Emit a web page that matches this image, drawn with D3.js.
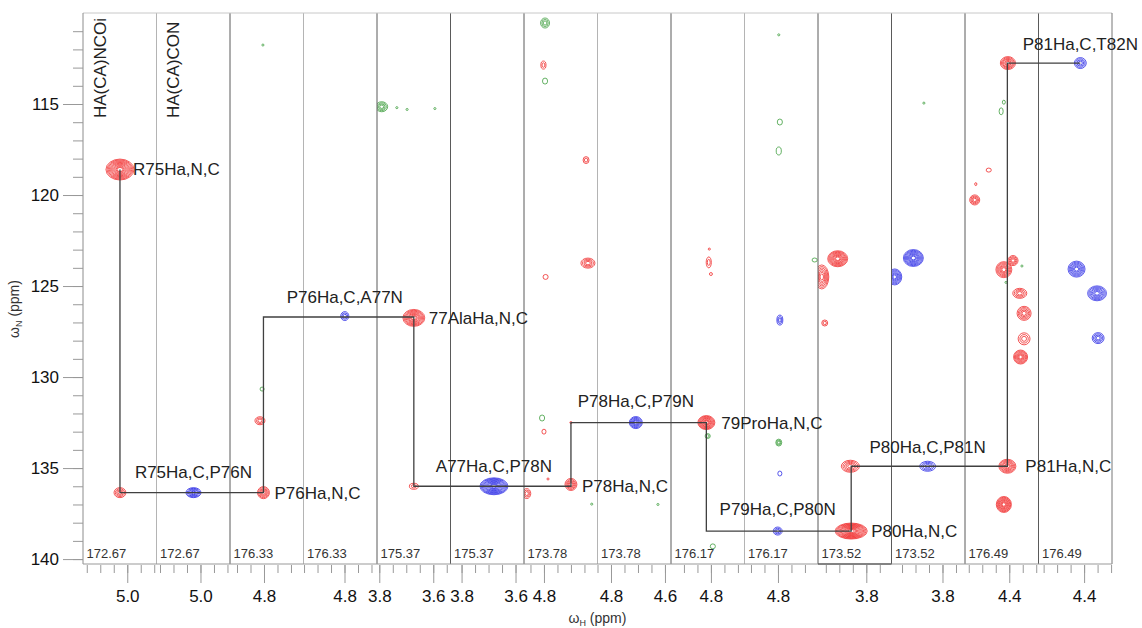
<!DOCTYPE html>
<html>
<head>
<meta charset="utf-8">
<script src="https://cdn.jsdelivr.net/npm/d3@7"></script>
<style>
  body { margin: 0; background: #fff; }
  svg { display: block; font-family: "Liberation Sans", Arial, sans-serif; }
</style>
</head>
<body>
<svg id="chart" width="1142" height="628"></svg>
<script>
// carbon shift shown in each strip and the 1H value at its left edge
const stripCarbon = [172.67, 172.67, 176.33, 176.33, 175.37, 175.37, 173.78, 173.78,
                     176.17, 176.17, 173.52, 173.52, 176.49, 176.49];
const stripHStart = [5.164, 5.163, 4.926, 4.952, 3.8085, 3.841, 4.874, 4.850,
                     4.948, 4.924, 3.979, 3.989, 4.564, 4.569];
const stripHWidth = 0.2724;
const stripHeaders = ["HA(CA)NCOi", "HA(CA)CON"];

const nMajorTicks = [115, 120, 125, 130, 135, 140];
const nMinorTicks = d3.range(111, 141);

// peaks: [strip, H ppm, N ppm, H linewidth, N linewidth, contour levels]
const ncoiPeaks = [
  [0, 5.027, 118.6, 0.104, 1.15, 11], [0, 5.027, 136.35, 0.044, 0.55, 4],
  [2, 4.802, 136.35, 0.044, 0.66, 5], [2, 4.815, 132.4, 0.037, 0.44, 3],
  [4, 3.672, 126.75, 0.081, 0.93, 9], [4, 3.672, 136.0, 0.033, 0.33, 2],
  [6, 4.864, 136.4, 0.030, 0.55, 3], [6, 4.802, 112.86, 0.019, 0.44, 2],
  [6, 4.644, 118.08, 0.022, 0.38, 2], [6, 4.637, 123.74, 0.052, 0.55, 4],
  [6, 4.794, 124.5, 0.019, 0.27, 1], [6, 4.800, 133.0, 0.015, 0.27, 1],
  [6, 4.785, 135.6, 0.008, 0.11, 1], [6, 4.700, 135.9, 0.044, 0.66, 5],
  [6, 4.700, 132.5, 0.008, 0.11, 1],
  [8, 4.817, 132.5, 0.063, 0.77, 9], [8, 4.808, 123.7, 0.019, 0.60, 2],
  [8, 4.806, 122.97, 0.008, 0.11, 1], [8, 4.800, 124.34, 0.011, 0.16, 1],
  [10, 3.906, 123.5, 0.074, 0.88, 9], [10, 3.965, 124.5, 0.052, 1.32, 7],
  [10, 3.954, 127.03, 0.022, 0.33, 2], [10, 3.859, 134.9, 0.067, 0.66, 5],
  [10, 3.856, 138.46, 0.119, 0.88, 12],
  [12, 4.407, 134.9, 0.063, 0.77, 7], [12, 4.420, 137.0, 0.056, 0.88, 9],
  [12, 4.405, 112.75, 0.056, 0.71, 6], [12, 4.528, 120.27, 0.037, 0.55, 4],
  [12, 4.476, 118.63, 0.019, 0.22, 1], [12, 4.524, 119.4, 0.008, 0.16, 1],
  [12, 4.420, 124.1, 0.059, 0.88, 7], [12, 4.386, 123.6, 0.037, 0.55, 4],
  [12, 4.361, 125.4, 0.052, 0.55, 4], [12, 4.345, 126.5, 0.052, 0.77, 5],
  [12, 4.345, 127.9, 0.044, 0.66, 3], [12, 4.358, 128.9, 0.052, 0.77, 7]
];
const conPeaks = [
  [1, 5.026, 136.35, 0.056, 0.55, 6], [3, 4.799, 126.65, 0.030, 0.49, 3],
  [5, 3.680, 136.0, 0.104, 0.93, 11], [7, 4.708, 132.5, 0.048, 0.66, 6],
  [9, 4.801, 138.46, 0.033, 0.44, 3], [9, 4.793, 135.3, 0.015, 0.27, 1],
  [9, 4.793, 126.87, 0.022, 0.55, 3],
  [11, 3.855, 134.9, 0.059, 0.55, 4], [11, 3.908, 123.46, 0.074, 0.93, 9],
  [11, 3.977, 124.5, 0.052, 0.88, 7],
  [13, 4.414, 112.75, 0.044, 0.60, 4], [13, 4.428, 124.07, 0.063, 0.88, 7],
  [13, 4.352, 125.4, 0.070, 0.82, 7], [13, 4.348, 127.86, 0.044, 0.60, 4]
];
const refPeaks = [
  [2, 4.807, 130.66, 0.015, 0.22, 1], [2, 4.804, 111.76, 0.008, 0.11, 1],
  [4, 3.791, 115.15, 0.044, 0.55, 4], [4, 3.735, 115.2, 0.008, 0.11, 1],
  [4, 3.697, 115.3, 0.008, 0.11, 1], [4, 3.594, 115.25, 0.008, 0.11, 1],
  [6, 4.796, 110.55, 0.033, 0.55, 3], [6, 4.796, 113.74, 0.019, 0.33, 1],
  [6, 4.807, 132.25, 0.019, 0.33, 1], [6, 4.623, 136.98, 0.008, 0.11, 1],
  [7, 4.626, 137.0, 0.008, 0.11, 1],
  [8, 4.812, 133.24, 0.019, 0.27, 2], [8, 4.793, 139.3, 0.019, 0.27, 1],
  [9, 4.797, 133.6, 0.022, 0.38, 3], [9, 4.793, 115.99, 0.019, 0.33, 1],
  [9, 4.797, 117.58, 0.019, 0.44, 1], [9, 4.664, 123.57, 0.019, 0.22, 1],
  [9, 4.797, 111.2, 0.008, 0.11, 1], [11, 3.869, 114.95, 0.008, 0.11, 1],
  [12, 4.430, 115.4, 0.015, 0.38, 1], [12, 4.420, 114.9, 0.011, 0.22, 1],
  [12, 4.353, 123.9, 0.008, 0.11, 1], [12, 4.412, 124.8, 0.008, 0.11, 1]
];

// sequential walk through the backbone: [strip, H ppm, N ppm]
const walk = [
  [0, 5.027, 118.6], [0, 5.027, 136.35], [2, 4.802, 136.35], [2, 4.802, 126.7],
  [4, 3.672, 126.7], [4, 3.672, 136.0], [6, 4.700, 136.0], [6, 4.700, 132.5],
  [8, 4.817, 132.5], [8, 4.817, 138.46], [10, 3.856, 138.46], [10, 3.856, 134.9],
  [12, 4.407, 134.9], [12, 4.407, 112.75], [13, 4.414, 112.75]
];

// assignment labels: [text, strip, H ppm, N ppm]
const labels = [
  ["R75Ha,N,C", 0, 5.027, 118.6], ["R75Ha,C,P76N", 1, 5.026, 136.35],
  ["P76Ha,N,C", 2, 4.802, 136.35], ["P76Ha,C,A77N", 3, 4.799, 126.65],
  ["77AlaHa,N,C", 4, 3.672, 126.75], ["A77Ha,C,P78N", 5, 3.680, 136.0],
  ["P78Ha,N,C", 6, 4.700, 136.0], ["P78Ha,C,P79N", 7, 4.708, 132.5],
  ["79ProHa,N,C", 8, 4.817, 132.5], ["P79Ha,C,P80N", 9, 4.801, 138.46],
  ["P80Ha,N,C", 10, 3.856, 138.46], ["P80Ha,C,P81N", 11, 3.855, 134.9],
  ["P81Ha,N,C", 12, 4.407, 134.9], ["P81Ha,C,T82N", 13, 4.414, 112.75]
];

// ---- layout ----
const width = 1142, height = 628;
const margin = { top: 13, right: 30, bottom: 64, left: 83 };
const plotRight = width - margin.right;
const plotBottom = height - margin.bottom;

const svg = d3.select("#chart");

const band = d3.scaleBand()
  .domain(d3.range(stripCarbon.length))
  .range([margin.left, plotRight])
  .padding(0);

const y = d3.scaleLinear()
  .domain([110, 140.27])
  .range([margin.top, plotBottom]);

// one 1H scale per strip
const xs = stripHStart.map((h0, i) => d3.scaleLinear()
  .domain([h0, h0 - stripHWidth])
  .range([band(i), band(i) + band.bandwidth()]));

const color = d3.scaleOrdinal()
  .domain(["NCOi", "CON", "ref"])
  .range(["#f02a2a", "#2c2ce6", "#3f9e3f"]);

// clip paths
const defs = svg.append("defs");
stripCarbon.forEach((c, i) => {
  defs.append("clipPath").attr("id", "clip" + i)
    .append("rect")
    .attr("x", band(i)).attr("y", margin.top)
    .attr("width", band.bandwidth()).attr("height", plotBottom - margin.top);
});

const stripLayer = stripCarbon.map((c, i) =>
  svg.append("g").attr("clip-path", `url(#clip${i})`));

// contours
[["NCOi", ncoiPeaks], ["CON", conPeaks], ["ref", refPeaks]].forEach(([name, rows]) => {
  rows.forEach(([s, h, n, wh, wn, lv]) => {
    const cx = xs[s](h), cy = y(n);
    const rx = Math.max(0.9, Math.abs(xs[s](h + wh / 2) - cx));
    const ry = Math.max(0.9, Math.abs(y(n + wn / 2) - cy));
    for (let k = 0; k < lv; k++) {
      const f = 1 - (k / lv) * 0.88;
      stripLayer[s].append("ellipse")
        .attr("cx", cx).attr("cy", cy)
        .attr("rx", rx * f).attr("ry", ry * f)
        .attr("fill", "none")
        .attr("stroke", color(name))
        .attr("stroke-width", lv > 6 ? 0.75 : 0.8);
    }
  });
});

// strip separators
const lightEdges = new Set([1, 3, 7, 9]);
d3.range(1, stripCarbon.length).forEach(i => {
  svg.append("line")
    .attr("x1", band(i)).attr("x2", band(i))
    .attr("y1", margin.top).attr("y2", plotBottom)
    .attr("stroke", lightEdges.has(i) ? "#b4b4b4" : "#5a5a5a")
    .attr("stroke-width", 1);
});

// frame
svg.append("line").attr("x1", margin.left).attr("x2", plotRight)
  .attr("y1", margin.top).attr("y2", margin.top).attr("stroke", "#c8c8c8");
svg.append("line").attr("x1", margin.left).attr("x2", margin.left)
  .attr("y1", margin.top).attr("y2", plotBottom).attr("stroke", "#8c8c8c");
svg.append("line").attr("x1", plotRight).attr("x2", plotRight)
  .attr("y1", margin.top).attr("y2", plotBottom).attr("stroke", "#777");
svg.append("line").attr("x1", margin.left).attr("x2", plotRight)
  .attr("y1", plotBottom).attr("y2", plotBottom).attr("stroke", "#999");
// highlighted (current) strip: darker bottom edge
svg.append("line")
  .attr("x1", band(10)).attr("x2", band(10) + band.bandwidth())
  .attr("y1", plotBottom).attr("y2", plotBottom)
  .attr("stroke", "#3a3a3a");

// carbon labels
stripCarbon.forEach((c, i) => {
  svg.append("text")
    .attr("x", band(i) + 3.5).attr("y", plotBottom - 6)
    .attr("font-size", 13).attr("fill", "#333")
    .text(c.toFixed(2));
});

// strip headers
stripHeaders.forEach((t, i) => {
  svg.append("text")
    .attr("transform", `translate(${band(i) + 22.5}, 118) rotate(-90)`)
    .attr("font-size", 17).attr("fill", "#222")
    .text(t);
});

// walk line
const walkLine = d3.line().x(d => xs[d[0]](d[1])).y(d => y(d[2]));
svg.append("path")
  .attr("d", walkLine(walk))
  .attr("fill", "none")
  .attr("stroke", "#404040")
  .attr("stroke-width", 1.3);

// assignment labels
const labelOffset = [[13, 0], [0, -21], [11, 0], [0, -19], [15, 0], [0, -20], [11, 0],
                     [0, -22], [15, 0], [0, -22], [20, 0], [0, -19], [18, 0], [0, -19]];
labels.forEach(([t, s, h, n], i) => {
  const [dx, dy] = labelOffset[i];
  svg.append("text")
    .attr("x", xs[s](h) + dx).attr("y", y(n) + dy)
    .attr("dy", "0.35em")
    .attr("text-anchor", dx === 0 ? "middle" : "start")
    .attr("font-size", 17).attr("fill", "#222")
    .text(t);
});

// x axes, one per strip
const fmt = d3.format(".1f");
xs.forEach((xsc, i) => {
  const [hi, lo] = xsc.domain();
  const minor = d3.range(Math.ceil(lo / 0.05 - 1e-6), Math.floor(hi / 0.05 + 1e-6) + 1)
    .map(k => +(k * 0.05).toFixed(2));
  const major = minor.filter(v => Math.abs(v / 0.2 - Math.round(v / 0.2)) < 1e-6);

  const gMinor = svg.append("g")
    .attr("transform", `translate(0, ${plotBottom + 1})`)
    .call(d3.axisBottom(xsc).tickValues(minor).tickSize(8).tickSizeOuter(0).tickFormat(""));
  gMinor.select(".domain").remove();
  gMinor.selectAll("line").attr("stroke", "#999");

  const gMajor = svg.append("g")
    .attr("transform", `translate(0, ${plotBottom + 1})`)
    .call(d3.axisBottom(xsc).tickValues(major).tickSize(18).tickSizeOuter(0)
      .tickPadding(7).tickFormat(fmt));
  gMajor.select(".domain").remove();
  gMajor.selectAll("line").attr("stroke", "#999");
  gMajor.selectAll("text")
    .attr("font-size", 17)
    .attr("font-family", "Liberation Sans, Arial, sans-serif")
    .attr("fill", "#111");
});

// y axis
const gyMinor = svg.append("g")
  .attr("transform", `translate(${margin.left}, 0)`)
  .call(d3.axisLeft(y).tickValues(nMinorTicks).tickSize(10).tickFormat(""));
gyMinor.select(".domain").remove();
gyMinor.selectAll("line").attr("stroke", "#999");

const gyMajor = svg.append("g")
  .attr("transform", `translate(${margin.left}, 0)`)
  .call(d3.axisLeft(y).tickValues(nMajorTicks).tickSize(20).tickPadding(4));
gyMajor.select(".domain").remove();
gyMajor.selectAll("line").attr("stroke", "#999");
gyMajor.selectAll("text")
  .attr("font-size", 17)
  .attr("font-family", "Liberation Sans, Arial, sans-serif")
  .attr("fill", "#111");

// axis titles
const xTitle = svg.append("text")
  .attr("x", (margin.left + plotRight) / 2).attr("y", 623)
  .attr("text-anchor", "middle")
  .attr("font-size", 14).attr("fill", "#333");
xTitle.append("tspan").text("ω");
xTitle.append("tspan").attr("font-size", 9).attr("dy", 3).text("H");
xTitle.append("tspan").attr("dy", -3).text(" (ppm)");

const yTitle = svg.append("text")
  .attr("transform", "translate(19, 309) rotate(-90)")
  .attr("text-anchor", "middle")
  .attr("font-size", 14).attr("fill", "#333");
yTitle.append("tspan").text("ω");
yTitle.append("tspan").attr("font-size", 9).attr("dy", 3).text("N");
yTitle.append("tspan").attr("dy", -3).text(" (ppm)");
</script>
</body>
</html>
